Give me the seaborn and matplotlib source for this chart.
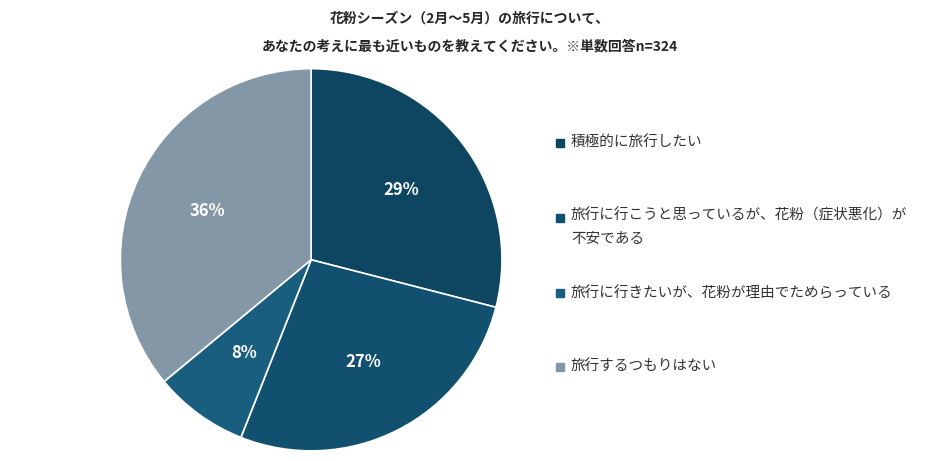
import matplotlib
matplotlib.use("Agg")
import matplotlib.pyplot as plt
import seaborn as sns

sns.set_theme(style="white")
plt.rcParams['font.family'] = ['Noto Sans CJK JP', 'DejaVu Sans']

categories = [
    "積極的に旅行したい",
    "旅行に行こうと思っているが、花粉（症状悪化）が\n不安である",
    "旅行に行きたいが、花粉が理由でためらっている",
    "旅行するつもりはない",
]
shares = [29, 27, 8, 36]
colors = ["#0e4560", "#11506e", "#195d7f", "#8497a7"]

fig = plt.figure(figsize=(9.4, 4.61), dpi=100)
ax = fig.add_axes([0.128, 0.022, 0.406, 0.829])
wedges, _, autotexts = ax.pie(
    shares, colors=colors, startangle=90, counterclock=False,
    autopct="%d%%", pctdistance=0.6,
    wedgeprops={"edgecolor": "white", "linewidth": 1.2},
)
for t in autotexts:
    t.set_color("white")
    t.set_fontweight("bold")
    t.set_fontsize(12)
ax.set_aspect("auto")
ax.set_xlim(-1, 1)
ax.set_ylim(-1, 1)

fig.text(0.5, 0.96, "花粉シーズン（2月～5月）の旅行について、", ha="center", va="center",
         fontsize=10, fontweight="bold")
fig.text(0.5, 0.9, "あなたの考えに最も近いものを教えてください。※単数回答n=324", ha="center",
         va="center", fontsize=10, fontweight="bold")

ys = [143, 218, 293, 367]
for y, lab, c in zip(ys, categories, colors):
    fy = 1 - y / 461
    fig.patches.append(plt.Rectangle((556 / 940, fy - 0.009), 8 / 940, 8 / 461,
                                     transform=fig.transFigure, color=c))
    if "\n" in lab:
        fig.text(571 / 940, fy + 0.022, lab, ha="left", va="top",
                 fontsize=10.5, color="#333333", linespacing=1.9)
    else:
        fig.text(571 / 940, fy, lab, ha="left", va="center",
                 fontsize=10.5, color="#333333")

fig.savefig("out.png", dpi=100)
